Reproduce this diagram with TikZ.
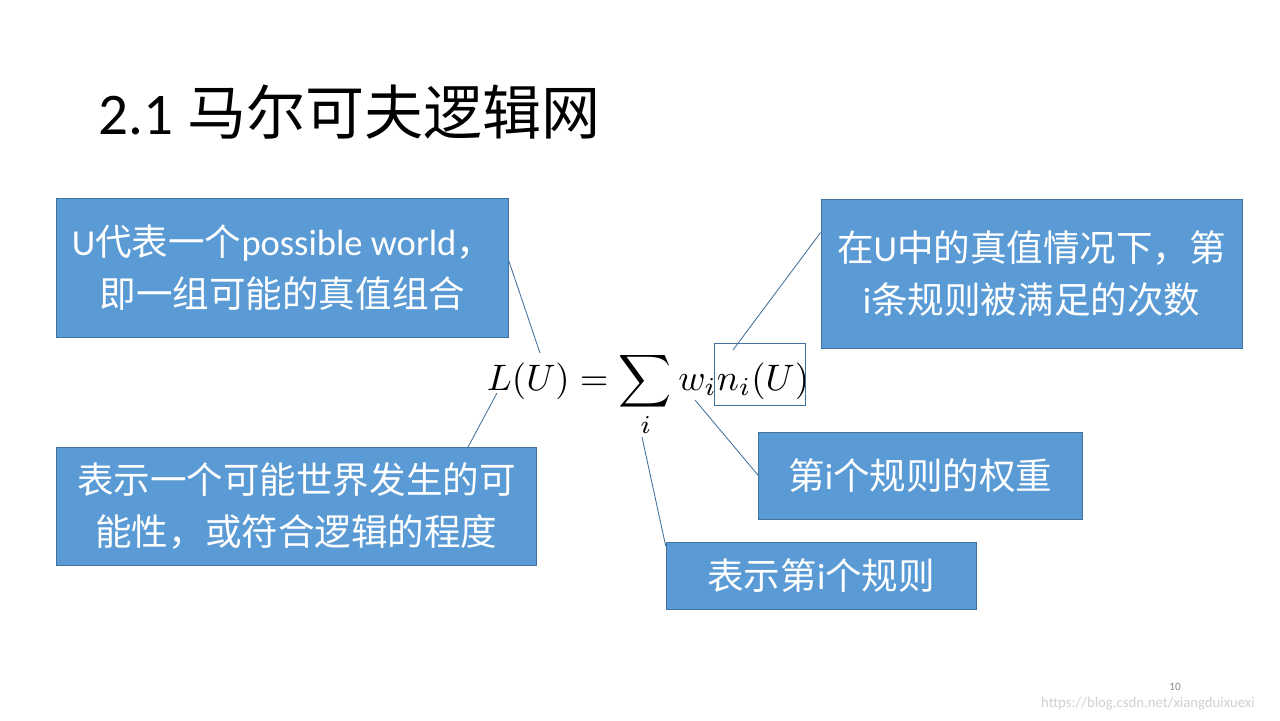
\documentclass[tikz,border=0pt]{standalone}
\usepackage{fontspec}
\setmainfont{Carlito}
\newfontfamily\zh{Noto Sans CJK SC}
\usepackage{tikz}
\usetikzlibrary{positioning,calc}
\definecolor{officeblue}{RGB}{91,155,213}
\definecolor{officeedge}{RGB}{65,113,156}
\definecolor{pagegrey}{RGB}{137,137,137}

\begin{document}
\begin{tikzpicture}[
    note/.style={rectangle, draw=officeedge, line width=0.6pt, fill=officeblue,
                 text=white, align=center, inner sep=0pt,
                 font=\fontsize{26}{37}\selectfont},
    link/.style={draw=officeedge, line width=0.6pt},
    title/.style={font=\fontsize{42}{48}\selectfont, anchor=west}
]
    \fill[white] (0,0) rectangle (32,18);
    \useasboundingbox (0,0) rectangle (32,18);
    \node[title] (head) at (2.35,15.2) {2.1 {\zh 马尔可夫逻辑网}};
    % formula
    \node[scale=2.62, anchor=base] (formula) at (16.2,8.25)
        {$\displaystyle L(U)=\sum_i w_i n_i(U)$};
    \node[draw=officeedge, line width=0.6pt, minimum width=2.275cm, minimum height=1.55cm,
          inner sep=0pt] (count) at (18.99,8.65) {};
    \coordinate (lu top) at (13.5,9.175);
    \coordinate (lu bottom) at (12.425,8.175);
    \coordinate (n top) at (18.325,9.25);
    \coordinate (w bottom) at (17.375,8.0);
    \coordinate (i bottom) at (16.05,7.075);
    % notes
    \node[note, minimum width=11.28cm, minimum height=3.48cm] (world) at (7.06,11.31)
        {U{\zh 代表一个}possible world{\zh ，}\\{\zh 即一组可能的真值组合}};
    \node[note, minimum width=10.53cm, minimum height=3.73cm] (satisfied) at (25.79,11.16)
        {{\zh 在}U{\zh 中的真值情况下，第}\\i{\zh 条规则被满足的次数}};
    \node[note, minimum width=11.98cm, minimum height=2.93cm] (degree) at (7.41,5.34)
        {{\zh 表示一个可能世界发生的可}\\{\zh 能性，或符合逻辑的程度}};
    \node[note, minimum width=8.08cm, minimum height=2.18cm] (weight) at (23.01,6.11)
        {{\zh 第}i{\zh 个规则的权重}};
    \node[note, minimum width=7.75cm, minimum height=1.68cm] (rule) at (20.53,3.61)
        {{\zh 表示第}i{\zh 个规则}};
    \draw[link] (world.2) -- (lu top);
    \draw[link] (degree.19) -- (lu bottom);
    \draw[link] (satisfied.169) -- (n top);
    \draw[link] (weight.west) -- (w bottom);
    \draw[link] ($(rule.north west)+(0,-0.12)$) -- (i bottom);
    % footer
    \node[font=\fontsize{8}{9}\selectfont, text=pagegrey] (page) at (29.375,0.825) {10};
    \node[font=\fontsize{10.5}{12}\selectfont, text=black!18] (mark) at (28.7,0.4)
        {https://blog.csdn.net/xiangduixuexi};
\end{tikzpicture}
\end{document}
